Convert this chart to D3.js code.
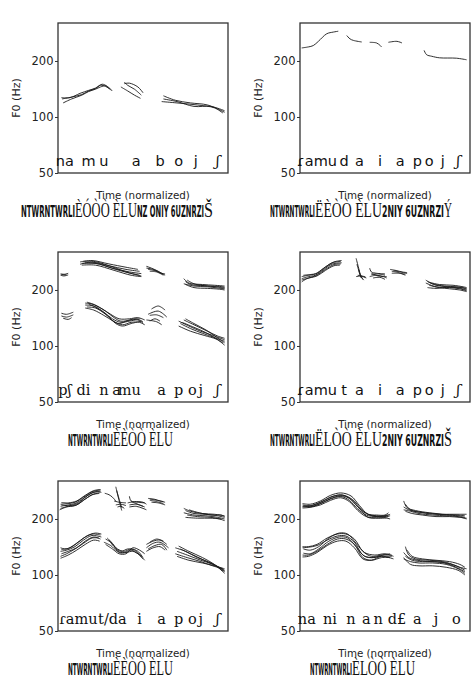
<!DOCTYPE html>
<html><head><meta charset="utf-8">
<script src="https://cdn.jsdelivr.net/npm/d3@7"></script>
<style>html,body{margin:0;padding:0;background:#fff}svg{display:block}</style>
</head><body><svg id="c" width="474" height="697"></svg>
<script>
// ---------- DATA (normalized time, F0 in Hz) ----------
const yTicks = [50, 100, 200];
const yLabel = "F0 (Hz)";
const xLabel = "Time (normalized)";

const panel1Labels = [["na",0.04],["m",0.18],["u",0.27],["a",0.46],["b",0.60],["o",0.71],["j",0.81],["ʃ",0.94]];
const panel1Contours = [
 [[0.024,125],[0.08,128],[0.14,132],[0.18,138],[0.22,142],[0.25,148],[0.28,146],[0.31,140]],
 [[0.03,119],[0.08,125],[0.14,131],[0.18,137],[0.22,141],[0.25,145],[0.28,147],[0.30,142]],
 [[0.02,127],[0.07,127],[0.13,134],[0.18,139],[0.22,143],[0.26,150],[0.29,146],[0.32,138]],
 [[0.39,151],[0.42,152],[0.47,145],[0.50,135]],
 [[0.39,154],[0.41,148],[0.45,141],[0.49,131]],
 [[0.37,145],[0.41,138],[0.45,131],[0.485,126]],
 [[0.62,130],[0.69,123],[0.78,119],[0.88,116],[0.98,106]],
 [[0.62,125],[0.70,121],[0.80,114],[0.90,114],[0.98,108]],
 [[0.61,121],[0.70,119],[0.82,116],[0.92,112],[0.97,105]]
];

const panel2Labels = [["ɾamu",0.10],["d",0.26],["a",0.35],["i",0.47],["a",0.59],["p",0.69],["o",0.76],["j",0.84],["ʃ",0.93]];
const panel2Contours = [
 [[0.01,235],[0.049,238],[0.078,242],[0.108,255],[0.157,280],[0.196,286],[0.225,289]],
 [[0.275,274],[0.294,263],[0.314,258],[0.363,253]],
 [[0.41,252],[0.45,250],[0.47,243],[0.48,238]],
 [[0.52,252],[0.57,255],[0.60,250]],
 [[0.73,228],[0.745,216],[0.775,212],[0.82,208],[0.92,207],[0.98,203]]
];

const panel3Labels = [["pʃ",0.04],["di",0.15],["n",0.27],["a",0.345],["mu",0.42],["a",0.61],["p",0.71],["o",0.79],["j",0.84],["ʃ",0.94]];
const panel3Contours = [
 [[0.015,244],[0.04,243],[0.06,246]],
 [[0.015,240],[0.035,238],[0.06,241]],
 [[0.02,242],[0.05,241]],
 [[0.13,283],[0.2,288],[0.3,276],[0.4,265],[0.47,258]],
 [[0.13,275],[0.2,282],[0.3,270],[0.4,258],[0.48,252]],
 [[0.14,278],[0.22,278],[0.32,262],[0.42,250],[0.49,245]],
 [[0.15,285],[0.22,284],[0.32,266],[0.42,247],[0.48,240]],
 [[0.14,272],[0.22,272],[0.33,255],[0.43,240],[0.49,236]],
 [[0.16,280],[0.24,276],[0.34,258],[0.44,244],[0.49,238]],
 [[0.52,268],[0.55,262],[0.59,252],[0.63,240]],
 [[0.52,262],[0.56,258],[0.60,248],[0.62,242]],
 [[0.53,258],[0.57,254],[0.60,247],[0.63,244]],
 [[0.54,252],[0.58,250],[0.62,240]],
 [[0.74,230],[0.77,218],[0.85,214],[0.92,212],[0.98,210]],
 [[0.75,222],[0.78,214],[0.86,211],[0.93,208],[0.98,205]],
 [[0.74,216],[0.80,210],[0.88,208],[0.94,205],[0.98,203]],
 [[0.75,214],[0.80,206],[0.88,204],[0.95,202],[0.98,200]],
 [[0.76,226],[0.80,216],[0.88,210],[0.95,209],[0.98,207]],
 [[0.02,150],[0.05,148],[0.09,152]],
 [[0.02,145],[0.05,143],[0.09,147]],
 [[0.03,141],[0.06,139],[0.08,142]],
 [[0.16,170],[0.2,168],[0.26,158],[0.31,148],[0.36,140],[0.42,140],[0.47,142],[0.51,138]],
 [[0.16,166],[0.21,164],[0.27,152],[0.32,140],[0.37,134],[0.42,136],[0.47,138],[0.5,133]],
 [[0.17,162],[0.22,160],[0.28,148],[0.33,135],[0.38,130],[0.43,134],[0.48,134],[0.51,130]],
 [[0.17,172],[0.22,166],[0.28,154],[0.33,142],[0.37,136],[0.43,138],[0.48,140]],
 [[0.18,168],[0.23,160],[0.29,146],[0.34,132],[0.38,128],[0.43,132],[0.49,136]],
 [[0.16,160],[0.21,156],[0.27,146],[0.32,137],[0.36,132],[0.41,137],[0.46,140],[0.5,135]],
 [[0.55,158],[0.59,164],[0.63,156]],
 [[0.53,148],[0.59,154],[0.64,143]],
 [[0.54,146],[0.58,147],[0.62,142]],
 [[0.52,138],[0.58,135],[0.61,130]],
 [[0.54,136],[0.57,140],[0.60,136]],
 [[0.75,140],[0.80,132],[0.87,122],[0.93,112],[0.98,104]],
 [[0.71,136],[0.77,128],[0.84,120],[0.91,114],[0.98,108]],
 [[0.72,132],[0.78,124],[0.85,117],[0.92,111],[0.98,106]],
 [[0.71,128],[0.78,120],[0.86,114],[0.93,109],[0.97,104]],
 [[0.74,138],[0.80,130],[0.88,120],[0.94,113],[0.98,110]],
 [[0.73,134],[0.80,126],[0.87,118],[0.94,108],[0.98,101]]
];

const panel4Labels = [["ɾamu",0.10],["t",0.26],["a",0.35],["i",0.47],["a",0.59],["p",0.69],["o",0.76],["j",0.84],["ʃ",0.93]];
const panel4Contours = [
 [[0.01,236],[0.05,240],[0.09,244],[0.14,262],[0.19,280],[0.24,285]],
 [[0.01,230],[0.05,236],[0.09,240],[0.14,258],[0.19,276],[0.245,280]],
 [[0.01,226],[0.05,232],[0.09,238],[0.15,258],[0.2,274],[0.24,276]],
 [[0.01,221],[0.04,230],[0.1,238],[0.15,255],[0.2,270],[0.235,272]],
 [[0.02,240],[0.06,242],[0.1,246],[0.15,266],[0.2,283],[0.245,288]],
 [[0.33,296],[0.345,262],[0.36,232]],
 [[0.335,275],[0.35,248],[0.37,228]],
 [[0.34,240],[0.37,236],[0.39,232]],
 [[0.33,236],[0.36,238],[0.385,235]],
 [[0.345,258],[0.355,238],[0.375,226]],
 [[0.41,262],[0.42,250],[0.45,246],[0.5,244]],
 [[0.42,242],[0.46,244],[0.5,240]],
 [[0.41,236],[0.45,240],[0.49,236],[0.51,232]],
 [[0.42,246],[0.46,238],[0.51,236]],
 [[0.43,232],[0.47,234],[0.5,228]],
 [[0.53,258],[0.57,254],[0.6,250],[0.63,248]],
 [[0.54,252],[0.58,248],[0.62,240]],
 [[0.54,246],[0.58,246],[0.62,243]],
 [[0.55,254],[0.59,250],[0.63,245]],
 [[0.74,226],[0.78,216],[0.85,210],[0.92,208],[0.98,204]],
 [[0.75,222],[0.80,212],[0.87,208],[0.93,205],[0.98,200]],
 [[0.74,218],[0.80,208],[0.88,206],[0.94,203],[0.98,198]],
 [[0.76,212],[0.82,206],[0.88,203],[0.94,200],[0.98,196]],
 [[0.75,206],[0.80,204],[0.88,207],[0.95,206],[0.98,202]],
 [[0.76,220],[0.82,214],[0.90,212],[0.96,208],[0.98,206]]
];

const panel5Labels = [["ɾamu",0.12],["t/da",0.32],["i",0.48],["a",0.61],["p",0.71],["o",0.79],["j",0.84],["ʃ",0.94]];
const panel5Contours = [
 [[0.015,240],[0.06,242],[0.1,246],[0.15,262],[0.2,280],[0.25,286]],
 [[0.015,234],[0.06,238],[0.1,242],[0.15,258],[0.2,276],[0.25,282]],
 [[0.015,228],[0.06,234],[0.11,238],[0.16,256],[0.21,272],[0.245,276]],
 [[0.02,245],[0.06,244],[0.11,250],[0.16,268],[0.21,284],[0.25,288]],
 [[0.01,224],[0.05,232],[0.1,236],[0.15,252],[0.2,270],[0.24,274]],
 [[0.02,238],[0.07,236],[0.12,244],[0.17,266],[0.22,280],[0.255,278]],
 [[0.275,275],[0.3,270],[0.32,262],[0.34,250]],
 [[0.34,298],[0.35,272],[0.365,240],[0.375,222]],
 [[0.345,285],[0.36,255],[0.375,230]],
 [[0.33,250],[0.36,246],[0.4,244]],
 [[0.34,238],[0.37,240],[0.4,236]],
 [[0.35,232],[0.37,234],[0.39,228]],
 [[0.42,265],[0.43,250],[0.47,246],[0.51,244]],
 [[0.41,244],[0.45,248],[0.5,246],[0.52,240]],
 [[0.42,238],[0.46,240],[0.5,234]],
 [[0.42,232],[0.46,234],[0.5,228],[0.52,224]],
 [[0.43,248],[0.47,240],[0.51,232]],
 [[0.53,258],[0.57,255],[0.6,250],[0.63,246]],
 [[0.54,252],[0.58,248],[0.62,242]],
 [[0.55,246],[0.59,244],[0.63,238]],
 [[0.54,256],[0.58,252],[0.62,248]],
 [[0.74,228],[0.78,220],[0.85,214],[0.92,212],[0.98,208]],
 [[0.75,222],[0.80,214],[0.87,212],[0.94,208],[0.98,204]],
 [[0.74,216],[0.80,210],[0.87,208],[0.94,204],[0.98,200]],
 [[0.76,210],[0.82,206],[0.90,204],[0.95,200],[0.98,196]],
 [[0.75,204],[0.82,202],[0.90,202],[0.96,200]],
 [[0.77,224],[0.83,216],[0.90,210],[0.96,210],[0.98,206]],
 [[0.015,140],[0.05,138],[0.1,146],[0.15,158],[0.2,166],[0.25,164]],
 [[0.015,134],[0.05,136],[0.1,142],[0.15,154],[0.2,163],[0.255,160]],
 [[0.02,130],[0.06,134],[0.11,140],[0.16,152],[0.21,160],[0.25,156]],
 [[0.015,126],[0.05,130],[0.1,138],[0.15,148],[0.2,158],[0.24,158]],
 [[0.02,137],[0.07,140],[0.12,150],[0.17,162],[0.22,168],[0.255,166]],
 [[0.015,123],[0.06,128],[0.11,136],[0.16,146],[0.21,154],[0.245,152]],
 [[0.28,156],[0.31,150],[0.35,138],[0.39,134],[0.43,138],[0.47,134],[0.5,124]],
 [[0.27,150],[0.31,144],[0.35,134],[0.39,132],[0.43,136],[0.47,130],[0.51,120]],
 [[0.29,158],[0.32,148],[0.36,132],[0.4,132],[0.44,134],[0.48,128],[0.5,122]],
 [[0.28,146],[0.32,138],[0.36,130],[0.4,130],[0.44,140],[0.48,136],[0.51,130]],
 [[0.3,154],[0.33,142],[0.37,134],[0.41,138],[0.45,136],[0.49,126]],
 [[0.52,146],[0.56,152],[0.6,154],[0.64,146]],
 [[0.52,140],[0.56,148],[0.6,150],[0.65,140]],
 [[0.53,138],[0.57,144],[0.61,146],[0.64,136]],
 [[0.52,134],[0.56,140],[0.6,142],[0.63,136]],
 [[0.54,150],[0.58,156],[0.62,152]],
 [[0.69,140],[0.75,134],[0.82,124],[0.90,116],[0.98,106]],
 [[0.70,134],[0.76,128],[0.84,120],[0.91,114],[0.98,104]],
 [[0.69,130],[0.76,124],[0.84,118],[0.91,112],[0.97,108]],
 [[0.71,143],[0.77,134],[0.85,124],[0.92,114],[0.98,102]],
 [[0.70,126],[0.77,120],[0.85,116],[0.92,112],[0.98,108]],
 [[0.72,138],[0.78,130],[0.86,120],[0.93,112],[0.98,105]]
];

const panel6Labels = [["na",0.04],["ni",0.176],["n",0.30],["a",0.39],["n",0.46],["d£",0.57],["a",0.69],["j",0.80],["o",0.92]];
const panel6Contours = [
 [[0.015,238],[0.06,236],[0.12,246],[0.18,262],[0.24,270],[0.29,260],[0.34,232],[0.39,214],[0.45,208],[0.5,208],[0.53,212]],
 [[0.015,234],[0.06,232],[0.12,242],[0.18,256],[0.24,264],[0.29,252],[0.34,226],[0.39,210],[0.45,206],[0.5,206],[0.53,208]],
 [[0.015,229],[0.06,231],[0.12,238],[0.18,252],[0.24,260],[0.29,248],[0.34,222],[0.39,206],[0.45,203],[0.5,204],[0.52,206]],
 [[0.015,242],[0.06,240],[0.12,250],[0.18,268],[0.24,276],[0.3,266],[0.35,236],[0.4,212],[0.45,210],[0.5,210],[0.52,216]],
 [[0.02,236],[0.07,234],[0.13,244],[0.19,260],[0.25,266],[0.3,254],[0.36,222],[0.4,204],[0.46,202],[0.51,202],[0.53,200]],
 [[0.015,232],[0.07,236],[0.13,248],[0.19,264],[0.25,268],[0.31,254],[0.36,226],[0.41,210],[0.47,206],[0.52,210]],
 [[0.61,250],[0.63,230],[0.68,222],[0.76,216],[0.84,212],[0.92,210],[0.97,208]],
 [[0.61,232],[0.64,224],[0.70,218],[0.78,214],[0.86,210],[0.93,208],[0.97,204]],
 [[0.61,224],[0.65,220],[0.70,214],[0.78,210],[0.86,208],[0.93,206],[0.98,200]],
 [[0.62,220],[0.66,214],[0.72,210],[0.80,206],[0.88,206],[0.94,204],[0.98,202]],
 [[0.62,240],[0.65,224],[0.72,216],[0.80,212],[0.88,212],[0.94,212],[0.98,212]],
 [[0.015,142],[0.05,142],[0.1,146],[0.16,158],[0.22,166],[0.27,166],[0.32,156],[0.37,134],[0.42,126],[0.48,128],[0.53,130]],
 [[0.015,140],[0.05,141],[0.1,144],[0.16,154],[0.22,162],[0.27,162],[0.32,150],[0.37,128],[0.42,124],[0.48,126],[0.54,126]],
 [[0.015,128],[0.05,128],[0.1,134],[0.16,146],[0.22,156],[0.27,156],[0.32,146],[0.37,124],[0.42,120],[0.48,124],[0.53,124]],
 [[0.015,125],[0.05,126],[0.1,132],[0.16,144],[0.22,152],[0.27,152],[0.32,140],[0.37,122],[0.42,120],[0.48,126],[0.55,122]],
 [[0.02,131],[0.06,130],[0.11,138],[0.17,152],[0.23,160],[0.28,158],[0.33,142],[0.38,126],[0.43,124],[0.49,128],[0.54,128]],
 [[0.02,138],[0.06,136],[0.11,142],[0.17,158],[0.23,168],[0.28,166],[0.33,148],[0.38,132],[0.44,128],[0.5,130],[0.55,126]],
 [[0.62,142],[0.64,128],[0.68,122],[0.76,120],[0.84,118],[0.92,112],[0.97,106]],
 [[0.61,132],[0.64,124],[0.69,120],[0.77,118],[0.85,116],[0.92,110],[0.97,104]],
 [[0.61,122],[0.65,118],[0.70,116],[0.78,116],[0.86,114],[0.93,108],[0.97,102]],
 [[0.62,126],[0.66,120],[0.72,118],[0.80,118],[0.88,115],[0.94,110],[0.98,108]],
 [[0.63,136],[0.66,126],[0.72,122],[0.80,120],[0.88,118],[0.94,114],[0.97,110]],
 [[0.61,124],[0.65,114],[0.70,112],[0.78,112],[0.86,110],[0.93,106],[0.97,100]]
];

// garbled captions as rendered in the original (text pieces: small / big glyph runs)
const panel1Title = ["NTWRNTWRLI","ÈÓÒÒ ÈLU","NZ ONIY 6UZNRZI","Š"];
const panel2Title = ["NTWRNTWRLI","ËÈÒÒ ÈLU","2NIY 6UZNRZI","Ý"];
const panel3Title = ["NTWRNTWRLI","ÈÈÒÒ ÈLU"];
const panel4Title = ["NTWRNTWRLI","ËLÒÒ ÈLU","2NIY 6UZNRZI","Š"];
const panel5Title = ["NTWRNTWRLI","ÈÈÒÒ ÈLU"];
const panel6Title = ["NTWRNTWRLI","ÈLÒÒ ÈLU"];

// ---------- LAYOUT ----------
const svg = d3.select("#c");
const colX = [58, 300], rowY = [23, 252, 481];
const PW = 170, PH = 150;

const panels = [
 {c:0,r:0,contours:panel1Contours,labels:panel1Labels,serif:false,title:panel1Title,tx:[21,75,137,204,213]},
 {c:1,r:0,contours:panel2Contours,labels:panel2Labels,serif:false,title:panel2Title,tx:[270,315,382,444,452]},
 {c:0,r:1,contours:panel3Contours,labels:panel3Labels,serif:true,title:panel3Title,tx:[68,113,173]},
 {c:1,r:1,contours:panel4Contours,labels:panel4Labels,serif:false,title:panel4Title,tx:[270,315,382,444,452]},
 {c:0,r:2,contours:panel5Contours,labels:panel5Labels,serif:true,title:panel5Title,tx:[68,113,173]},
 {c:1,r:2,contours:panel6Contours,labels:panel6Labels,serif:true,title:panel6Title,tx:[310,352,415]}
];

const sans = "DejaVu Sans, sans-serif";
const serif = "DejaVu Serif, serif";

panels.forEach(p => {
  const ox = colX[p.c], oy = rowY[p.r];
  const g = svg.append("g").attr("transform", `translate(${ox},${oy})`);
  const x = d3.scaleLinear().domain([0,1]).range([0,PW]);
  const y = d3.scaleLog().domain([50,320]).range([PH,0]);

  const line = d3.line().x(d=>x(d[0])).y(d=>y(d[1])).curve(d3.curveCatmullRom.alpha(0.5));
  g.append("g").selectAll("path").data(p.contours).join("path")
    .attr("d", line).attr("fill","none").attr("stroke","#1a1a1a")
    .attr("stroke-width",1).attr("stroke-opacity",0.9);

  g.append("rect").attr("x",0).attr("y",0).attr("width",PW).attr("height",PH)
    .attr("fill","none").attr("stroke","#333").attr("stroke-width",1.3);

  const ax = g.append("g").call(d3.axisLeft(y).tickValues(yTicks).tickFormat(d3.format("d")).tickSize(3).tickPadding(1.5));
  ax.select(".domain").remove();
  ax.selectAll("line").attr("stroke","#333");
  ax.selectAll("text").attr("font-family",sans).attr("font-size",11.5).attr("fill","#222");

  g.append("text").attr("transform",`translate(${-38},${PH/2}) rotate(-90)`)
    .attr("text-anchor","middle").attr("font-family",sans).attr("font-size",11).attr("fill","#222").text(yLabel);

  g.append("text").attr("x",PW/2).attr("y",PH+26).attr("text-anchor","middle")
    .attr("font-family",sans).attr("font-size",10.3).attr("fill","#222").text(xLabel);

  g.append("g").selectAll("text").data(p.labels).join("text")
    .attr("x",d=>x(d[1])).attr("y",PH-7).attr("text-anchor","middle")
    .attr("font-family",d => (p.serif || d[0]==="ʃ") ? serif : sans)
    .attr("font-style",d => d[0]==="ʃ" ? "italic" : "normal")
    .attr("font-size",14.5).attr("fill","#111")
    .text(d=>d[0]);

  const tb = oy + PH + 44;
  p.title.forEach((s,i) => {
    const x0 = p.tx[i], x1 = p.tx[i+1];
    const big = (i % 2 === 1);
    svg.append("text").attr("x",x0).attr("y",tb)
      .attr("font-family", big ? "Liberation Serif, serif" : "DejaVu Sans, sans-serif")
      .attr("font-weight", big ? "normal" : "bold")
      .attr("font-size", big ? 21 : 16)
      .attr("textLength", x1 - x0).attr("lengthAdjust","spacingAndGlyphs")
      .attr("fill","#111").text(s);
  });
});
</script></body></html>
